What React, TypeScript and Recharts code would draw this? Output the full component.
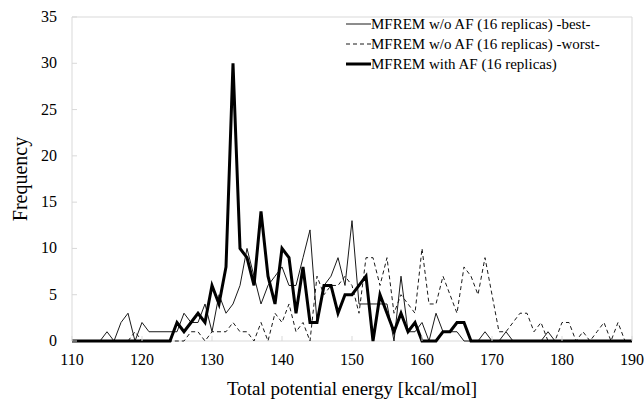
import React from 'react';
import { LineChart, Line, XAxis, YAxis, ReferenceArea, Label } from 'recharts';

const FONT = '"Liberation Serif", "Times New Roman", serif';

// bins of total potential energy (kcal/mol)
const energy = [
  110, 111, 112, 113, 114, 115, 116, 117, 118, 119,
  120, 121, 122, 123, 124, 125, 126, 127, 128, 129,
  130, 131, 132, 133, 134, 135, 136, 137, 138, 139,
  140, 141, 142, 143, 144, 145, 146, 147, 148, 149,
  150, 151, 152, 153, 154, 155, 156, 157, 158, 159,
  160, 161, 162, 163, 164, 165, 166, 167, 168, 169,
  170, 171, 172, 173, 174, 175, 176, 177, 178, 179,
  180, 181, 182, 183, 184, 185, 186, 187, 188, 189,
  190,
];

const best = [
  0, 0, 0, 0, 0, 1, 0, 2, 3, 0,
  2, 1, 1, 1, 1, 1, 3, 2, 2, 4,
  1, 5, 3, 4, 6, 10, 7, 4, 6, 7,
  8, 6, 6, 9, 12, 2, 6, 7, 9, 6,
  13, 4, 4, 4, 4, 4, 0, 7, 1, 1,
  2, 0, 3, 1, 1, 1, 0, 0, 0, 1,
  0, 0, 1, 0, 0, 0, 0, 0, 1, 0,
  0, 0, 0, 0, 0, 0, 0, 0, 0, 0,
  0,
];

const worst = [
  0, 0, 0, 0, 0, 0, 0, 0, 0, 1,
  0, 0, 0, 0, 0, 0, 0, 1, 1, 0,
  1, 1, 1, 2, 1, 1, 0, 2, 0, 3,
  2, 4, 1, 2, 0, 7, 5, 6, 6, 7,
  6, 3, 9, 9, 6, 9, 3, 5, 4, 3,
  10, 4, 4, 7, 5, 3, 8, 7, 5, 9,
  5, 1, 1, 2, 3, 3, 1, 2, 0, 0,
  2, 2, 0, 1, 0, 1, 2, 0, 2, 0,
  0,
];

const withAF = [
  0, 0, 0, 0, 0, 0, 0, 0, 0, 0,
  0, 0, 0, 0, 0, 2, 1, 2, 3, 2,
  6, 4, 8, 30, 10, 9, 6, 14, 7, 4,
  10, 9, 3, 8, 2, 2, 6, 6, 3, 5,
  5, 6, 7, 0, 5, 3, 1, 3, 1, 2,
  0, 0, 0, 1, 1, 2, 2, 0, 0, 0,
  0, 0, 0, 0, 0, 0, 0, 0, 0, 0,
  0, 0, 0, 0, 0, 0, 0, 0, 0, 0,
  0,
];

const xTicks = [110, 120, 130, 140, 150, 160, 170, 180, 190];
const yTicks = [0, 5, 10, 15, 20, 25, 30, 35];

const series = [
  { key: 'best', name: 'MFREM w/o AF (16 replicas) -best-', width: 1, dash: undefined, color: '#1a1a1a' },
  { key: 'worst', name: 'MFREM w/o AF (16 replicas) -worst-', width: 1, dash: '4 3', color: '#1a1a1a' },
  { key: 'withAF', name: 'MFREM with AF (16 replicas)', width: 3, dash: undefined, color: '#000' },
];

const data = energy.map((e, i) => ({
  energy: e,
  best: best[i],
  worst: worst[i],
  withAF: withAF[i],
}));

function XTick(props: any) {
  const { x, y, payload } = props;
  return (
    <g>
      <line x1={x} y1={y} x2={x} y2={y - 5} stroke="#d9d9d9" />
      <text x={x} y={y + 24} textAnchor="middle" fontSize={16} fontFamily={FONT} fill="#000">
        {payload.value}
      </text>
    </g>
  );
}

function YTick(props: any) {
  const { x, y, payload } = props;
  return (
    <g>
      <line x1={x} y1={y} x2={x + 5} y2={y} stroke="#d9d9d9" />
      <text x={x - 15} y={y + 5} textAnchor="end" fontSize={16} fontFamily={FONT} fill="#000">
        {payload.value}
      </text>
    </g>
  );
}

function ChartLegend() {
  return (
    <div style={{ position: 'absolute', left: 346, top: 14, fontFamily: FONT, fontSize: 15, color: '#000' }}>
      {series.map((s) => (
        <div key={s.key} style={{ display: 'flex', alignItems: 'center', height: 20, whiteSpace: 'nowrap' }}>
          <svg width={25} height={20} style={{ display: 'block' }}>
            <line x1={0} y1={10} x2={25} y2={10} stroke={s.color} strokeWidth={s.width} strokeDasharray={s.dash} />
          </svg>
          <span>{s.name}</span>
        </div>
      ))}
    </div>
  );
}

export default function App() {
  return (
    <div style={{ position: 'absolute', left: 0, top: 0, width: 644, height: 403, background: '#fff' }}>
      <LineChart width={644} height={403} data={data} margin={{ top: 17, right: 12, left: 0, bottom: 0 }}>
        <ReferenceArea x1={110} x2={190} y1={0} y2={35} fill="none" stroke="#d9d9d9" />
        <XAxis
          dataKey="energy"
          type="number"
          domain={[110, 190]}
          ticks={xTicks}
          interval={0}
          height={62}
          axisLine={false}
          tickLine={false}
          tickSize={0}
          tickMargin={0}
          tick={<XTick />}
        >
          <Label
            value="Total potential energy [kcal/mol]"
            position="insideBottom"
            offset={8}
            style={{ fontFamily: FONT, fontSize: 19, fill: '#000' }}
          />
        </XAxis>
        <YAxis
          type="number"
          domain={[0, 35]}
          ticks={yTicks}
          interval={0}
          width={72}
          axisLine={false}
          tickLine={false}
          tickSize={0}
          tickMargin={0}
          tick={<YTick />}
        >
          <Label
            value="Frequency"
            angle={-90}
            position="insideLeft"
            offset={20}
            style={{ fontFamily: FONT, fontSize: 20, fill: '#000', textAnchor: 'middle' }}
          />
        </YAxis>
        {series.map((s) => (
          <Line
            key={s.key}
            type="linear"
            dataKey={s.key}
            name={s.name}
            stroke={s.color}
            strokeWidth={s.width}
            strokeDasharray={s.dash}
            dot={false}
            activeDot={false}
            isAnimationActive={false}
          />
        ))}
      </LineChart>
      <ChartLegend />
    </div>
  );
}
